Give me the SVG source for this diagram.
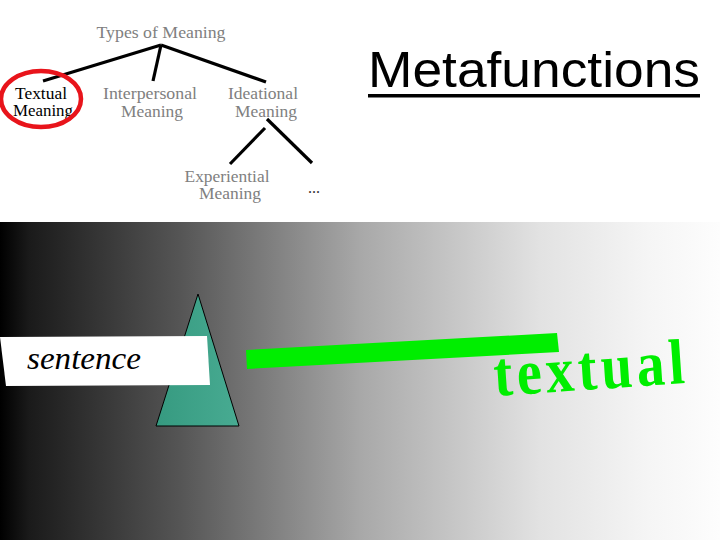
<svg xmlns="http://www.w3.org/2000/svg" width="720" height="540" viewBox="0 0 720 540">
  <defs>
    <linearGradient id="bg" x1="0" y1="0" x2="1" y2="0">
      <stop offset="0" stop-color="#000"/>
      <stop offset="0.04" stop-color="#1a1a1a"/>
      <stop offset="0.25" stop-color="#555"/>
      <stop offset="0.5" stop-color="#a8a8a8"/>
      <stop offset="0.75" stop-color="#e2e2e2"/>
      <stop offset="0.9" stop-color="#f5f5f5"/>
      <stop offset="1" stop-color="#fdfdfd"/>
    </linearGradient>
    <linearGradient id="teal" x1="0" y1="0" x2="1" y2="0">
      <stop offset="0" stop-color="#369a80"/>
      <stop offset="1" stop-color="#48ab92"/>
    </linearGradient>
    <style>
      .tree { font-family: "Liberation Serif", "Times New Roman", serif; font-size: 16px; text-anchor: middle; fill: #808080; }
      .dark { fill: #000; }
      .conn { stroke: #000; stroke-width: 3.2; stroke-linecap: butt; fill: none; }
    </style>
  </defs>

  <rect x="0" y="0" width="720" height="540" fill="#fff"/>
  <rect x="0" y="222" width="720" height="318" fill="url(#bg)"/>

  <g id="connectors">
    <line class="conn" x1="161" y1="45" x2="43" y2="81"/>
    <line class="conn" x1="161" y1="45" x2="153" y2="81"/>
    <line class="conn" x1="161" y1="45" x2="266" y2="82"/>
    <line class="conn" x1="265" y1="128" x2="230" y2="164"/>
    <line class="conn" x1="267" y1="119" x2="312" y2="163"/>
  </g>

  <g id="types-of-meaning">
    <text class="tree" x="161" y="38" textLength="129" lengthAdjust="spacingAndGlyphs">Types of Meaning</text>
  </g>
  <g id="textual-meaning">
    <text class="tree dark" x="41" y="99" textLength="52" lengthAdjust="spacingAndGlyphs">Textual</text>
    <text class="tree dark" x="43" y="116" textLength="60" lengthAdjust="spacingAndGlyphs">Meaning</text>
    <ellipse cx="41" cy="99" rx="40" ry="28" fill="none" stroke="#e8141b" stroke-width="4.5"/>
  </g>
  <g id="interpersonal-meaning">
    <text class="tree" x="150" y="99" textLength="94" lengthAdjust="spacingAndGlyphs">Interpersonal</text>
    <text class="tree" x="152" y="117" textLength="62" lengthAdjust="spacingAndGlyphs">Meaning</text>
  </g>
  <g id="ideational-meaning">
    <text class="tree" x="263" y="99" textLength="70" lengthAdjust="spacingAndGlyphs">Ideational</text>
    <text class="tree" x="266" y="117" textLength="62" lengthAdjust="spacingAndGlyphs">Meaning</text>
  </g>
  <g id="experiential-meaning">
    <text class="tree" x="227" y="182" textLength="85" lengthAdjust="spacingAndGlyphs">Experiential</text>
    <text class="tree" x="230" y="199" textLength="62" lengthAdjust="spacingAndGlyphs">Meaning</text>
  </g>
  <g id="ellipsis">
    <text class="tree dark" x="314" y="193" style="fill:#333">...</text>
  </g>

  <g id="title">
    <text x="368" y="87" font-family="Liberation Sans, Arial, sans-serif" font-size="50" textLength="332" lengthAdjust="spacingAndGlyphs" fill="#000">Metafunctions</text>
    <rect x="368" y="94" width="332" height="3.5" fill="#000"/>
  </g>

  <g id="prism">
    <polygon points="198,294 156,426 239,426" fill="url(#teal)" stroke="#000" stroke-width="1"/>
  </g>

  <g id="sentence">
    <polygon points="0,337 207,336 210,385 6,386" fill="#fff"/>
    <text x="27" y="369" font-family="Liberation Serif, serif" font-style="italic" font-size="31" textLength="114" lengthAdjust="spacingAndGlyphs" fill="#000">sentence</text>
  </g>

  <g id="beam">
    <polygon points="246,350 557,333 559,352 247,369" fill="#00ee00"/>
  </g>

  <g id="textual">
    <text x="0" y="0" transform="translate(495 396) rotate(-3.9) scale(0.88 1)" font-family="Liberation Serif, serif" font-weight="bold" font-size="64" textLength="217" lengthAdjust="spacing" fill="#00ee00">textual</text>
  </g>
</svg>
